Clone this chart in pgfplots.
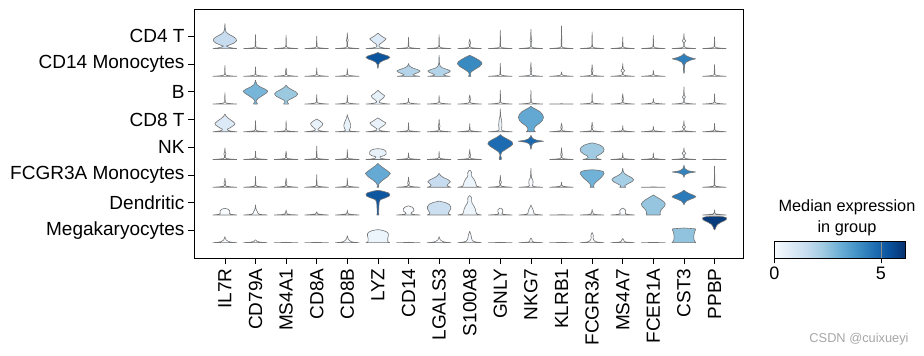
\documentclass[border=0pt]{standalone}
\usepackage{fontspec}
\setmainfont{Liberation Sans}
\usepackage{pgfplots}
\pgfplotsset{compat=1.18}
\pgfplotsset{colormap={blues}{rgb255=(247,251,255) rgb255=(222,235,247) rgb255=(198,219,239) rgb255=(158,202,225) rgb255=(107,174,214) rgb255=(66,146,198) rgb255=(33,113,181) rgb255=(8,81,156) rgb255=(8,48,107)}}
\pgfplotsset{vln/.style={draw=black!55, line width=0.6pt, mark=none, line join=round}}

% #1 gene column, #2 row (0 = top), #3 median expression, #4 profile: height/half-width pairs
\newcommand\violin[4]{%
  \pgfmathsetmacro\vx{#1}%
  \pgfmathsetmacro\vy{7-#2}%
  \gdef\vR{}\gdef\vL{}\gdef\vF{}%
  \foreach \a/\b in {#4}{%
    \pgfmathsetmacro\px{\vx+(\b)}%
    \pgfmathsetmacro\qx{\vx-(\b)}%
    \pgfmathsetmacro\py{\vy+(\a)}%
    \ifx\vF\empty\xdef\vF{(\px,\py)}\fi
    \xdef\vR{\vR (\px,\py)}%
    \xdef\vL{(\qx,\py) \vL}%
  }%
  \pgfplotscolormapaccess[0:6.16]{#3}{blues}%
  \xdef\vrgb{\pgfmathresult}%
  \xglobal\definecolor{vc#1x#2}{rgb}{\vrgb}%
  \edef\vcmd{\noexpand\addplot[vln, fill=vc#1x#2] coordinates {\vR \vL \vF};}%
  \vcmd
}
\newcommand\stick[3]{\violin{#1}{#2}{0}{0/0.39, 0.015/0.2, 0.035/0.05, 0.07/0.012, #3/0}}
\newcommand\lens[5]{\violin{#1}{#2}{0}{0/0.39, 0.015/0.2, 0.035/0.05, 0.07/0.012, #4-0.06/0.012, #4/#5, #4+0.07/0.012, #3/0}}
\newcommand\peak[3]{\violin{#1}{#2}{0}{0/0.39, 0.015/0.22, 0.04/0.12, #3*0.45/0.04, #3*0.75/0.015, #3/0}}
\newcommand\flatv[2]{\violin{#1}{#2}{0}{0/0.39, 0.008/0.05, 0.016/0}}

\begin{document}
\begin{tikzpicture}
\path[use as bounding box] (-194pt,-98pt) rectangle (730pt,258pt);
\begin{axis}[
  at={(0pt,0pt)}, anchor=south west,
  width=549pt, height=249pt, scale only axis,
  xmin=-1.01, xmax=16.93, ymin=-0.552, ymax=8.428,
  xtick={0,...,16},
  xticklabels={IL7R,CD79A,MS4A1,CD8A,CD8B,LYZ,CD14,LGALS3,S100A8,GNLY,NKG7,KLRB1,FCGR3A,MS4A7,FCER1A,CST3,PPBP},
  ytick={7.44,6.44,5.44,4.44,3.44,2.44,1.44,0.44},
  yticklabels={CD4 T,CD14 Monocytes,B,CD8 T,NK,FCGR3A Monocytes,Dendritic,Megakaryocytes},
  xtick pos=bottom, ytick pos=left,
  tick align=outside, major tick length=6pt,
  tick style={black, line width=0.8pt},
  axis line style={line width=0.9pt},
  xticklabel shift=1pt,
  xticklabel style={rotate=90, anchor=east, font=\fontsize{19}{22}\selectfont},
  yticklabel style={font=\fontsize{19}{22}\selectfont},
  clip=false,
]
% Row 0: CD4 T
\violin{0}{0}{1.5}{0/0.39, 0.02/0.25, 0.05/0.12, 0.09/0.05, 0.13/0.15, 0.2/0.3, 0.28/0.38, 0.36/0.36, 0.44/0.26, 0.52/0.12, 0.6/0.04, 0.68/0.015, 0.9/0}
\stick{1}{0}{0.5}
\stick{2}{0}{0.48}
\stick{3}{0}{0.45}
\lens{4}{0}{0.57}{0.3}{0.03}
\violin{5}{0}{0.8}{0/0.39, 0.02/0.2, 0.05/0.06, 0.1/0.03, 0.16/0.06, 0.24/0.16, 0.35/0.27, 0.45/0.12, 0.54/0.02, 0.56/0}
\stick{6}{0}{0.4}
\stick{7}{0}{0.5}
\lens{8}{0}{0.35}{0.2}{0.03}
\stick{9}{0}{0.66}
\lens{10}{0}{0.7}{0.3}{0.03}
\stick{11}{0}{0.82}
\stick{12}{0}{0.6}
\stick{13}{0}{0.42}
\stick{14}{0}{0.48}
\lens{15}{0}{0.54}{0.28}{0.06}
\stick{16}{0}{0.42}
% Row 1: CD14 Monocytes
\stick{0}{1}{0.4}
\stick{1}{1}{0.34}
\lens{2}{1}{0.3}{0.16}{0.025}
\stick{3}{1}{0.3}
\stick{4}{1}{0.28}
\violin{5}{1}{5.3}{0.28/0, 0.33/0.01, 0.42/0.02, 0.5/0.06, 0.57/0.18, 0.63/0.33, 0.68/0.39, 0.73/0.34, 0.78/0.2, 0.82/0.08, 0.86/0}
\violin{6}{1}{1.85}{0/0.37, 0.02/0.22, 0.05/0.14, 0.09/0.2, 0.14/0.32, 0.19/0.38, 0.24/0.3, 0.3/0.14, 0.36/0.04, 0.42/0.01, 0.46/0}
\violin{7}{1}{1.9}{0/0.37, 0.02/0.22, 0.05/0.14, 0.09/0.2, 0.14/0.32, 0.19/0.37, 0.24/0.28, 0.3/0.12, 0.36/0.04, 0.45/0.012, 0.76/0}
\violin{8}{1}{4.05}{0/0.04, 0.04/0.02, 0.1/0.02, 0.16/0.05, 0.25/0.17, 0.35/0.32, 0.45/0.4, 0.52/0.38, 0.6/0.28, 0.68/0.15, 0.76/0}
\stick{9}{1}{0.47}
\lens{10}{1}{0.5}{0.22}{0.03}
\stick{11}{1}{0.16}
\lens{12}{1}{0.42}{0.2}{0.03}
\lens{13}{1}{0.46}{0.2}{0.065}
\stick{14}{1}{0.22}
\violin{15}{1}{4.3}{0.1/0, 0.15/0.01, 0.4/0.02, 0.5/0.06, 0.58/0.2, 0.63/0.38, 0.68/0.2, 0.75/0.06, 0.82/0}
\stick{16}{1}{0.42}
% Row 2: B
\stick{0}{2}{0.41}
\violin{1}{2}{2.9}{0/0.06, 0.03/0.06, 0.07/0.02, 0.13/0.03, 0.2/0.08, 0.3/0.22, 0.4/0.36, 0.46/0.4, 0.53/0.33, 0.62/0.15, 0.7/0.05, 0.78/0.02, 0.86/0}
\violin{2}{2}{2.35}{0/0.08, 0.03/0.07, 0.07/0.03, 0.13/0.06, 0.2/0.18, 0.28/0.32, 0.36/0.38, 0.44/0.32, 0.52/0.18, 0.6/0.06, 0.68/0}
\stick{3}{2}{0.34}
\stick{4}{2}{0.31}
\violin{5}{2}{0.5}{0/0.39, 0.02/0.2, 0.05/0.06, 0.09/0.04, 0.14/0.08, 0.22/0.18, 0.3/0.22, 0.38/0.12, 0.46/0.03, 0.5/0}
\stick{6}{2}{0.2}
\stick{7}{2}{0.31}
\lens{8}{2}{0.33}{0.18}{0.025}
\stick{9}{2}{0.5}
\stick{10}{2}{0.5}
\flatv{11}{2}
\stick{12}{2}{0.41}
\lens{13}{2}{0.37}{0.18}{0.025}
\stick{14}{2}{0.2}
\lens{15}{2}{0.62}{0.25}{0.05}
\stick{16}{2}{0.37}
% Row 3: CD8 T
\violin{0}{3}{0.85}{0/0.39, 0.02/0.22, 0.05/0.1, 0.09/0.08, 0.15/0.18, 0.24/0.3, 0.3/0.33, 0.38/0.25, 0.48/0.12, 0.56/0.04, 0.64/0}
\stick{1}{3}{0.4}
\stick{2}{3}{0.4}
\violin{3}{3}{0.4}{0/0.39, 0.02/0.2, 0.05/0.06, 0.09/0.04, 0.15/0.1, 0.23/0.18, 0.3/0.2, 0.38/0.12, 0.44/0.03, 0.46/0}
\violin{4}{3}{0.5}{0/0.39, 0.02/0.12, 0.05/0.06, 0.1/0.08, 0.18/0.11, 0.26/0.11, 0.36/0.08, 0.46/0.04, 0.56/0.01, 0.62/0}
\violin{5}{3}{0.4}{0/0.39, 0.02/0.2, 0.05/0.05, 0.1/0.03, 0.16/0.1, 0.25/0.22, 0.32/0.26, 0.4/0.14, 0.48/0.03, 0.5/0}
\stick{6}{3}{0.33}
\lens{7}{3}{0.46}{0.2}{0.03}
\stick{8}{3}{0.29}
\violin{9}{3}{0.3}{0/0.39, 0.02/0.15, 0.05/0.05, 0.1/0.04, 0.2/0.05, 0.3/0.05, 0.42/0.04, 0.52/0.02, 0.6/0.008, 0.83/0}
\violin{10}{3}{3.25}{0/0.15, 0.03/0.12, 0.07/0.1, 0.14/0.11, 0.22/0.17, 0.32/0.3, 0.42/0.38, 0.52/0.41, 0.62/0.38, 0.72/0.3, 0.8/0.18, 0.87/0.06, 0.92/0}
\lens{11}{3}{0.3}{0.16}{0.025}
\lens{12}{3}{0.35}{0.16}{0.03}
\stick{13}{3}{0.22}
\stick{14}{3}{0.2}
\lens{15}{3}{0.4}{0.17}{0.05}
\stick{16}{3}{0.3}
% Row 4: NK
\lens{0}{4}{0.42}{0.2}{0.035}
\stick{1}{4}{0.3}
\lens{2}{4}{0.3}{0.14}{0.02}
\stick{3}{4}{0.48}
\stick{4}{4}{0.36}
\violin{5}{4}{0.5}{0/0.39, 0.02/0.2, 0.05/0.08, 0.1/0.07, 0.14/0.2, 0.19/0.27, 0.27/0.27, 0.34/0.22, 0.38/0.1, 0.39/0}
\stick{6}{4}{0.24}
\stick{7}{4}{0.3}
\lens{8}{4}{0.36}{0.15}{0.03}
\violin{9}{4}{4.75}{0/0.03, 0.05/0.035, 0.1/0.02, 0.15/0.012, 0.2/0.02, 0.28/0.06, 0.38/0.2, 0.48/0.34, 0.56/0.41, 0.64/0.38, 0.72/0.26, 0.8/0.12, 0.86/0.04, 0.9/0}
\violin{10}{4}{4.8}{0.36/0, 0.42/0.012, 0.5/0.025, 0.57/0.06, 0.62/0.16, 0.66/0.41, 0.7/0.18, 0.75/0.07, 0.81/0.025, 0.87/0}
\lens{11}{4}{0.42}{0.18}{0.03}
\violin{12}{4}{2.3}{0/0.3, 0.03/0.18, 0.07/0.13, 0.12/0.15, 0.2/0.28, 0.28/0.37, 0.36/0.39, 0.44/0.36, 0.52/0.26, 0.57/0.12, 0.6/0}
\stick{13}{4}{0.24}
\stick{14}{4}{0.24}
\lens{15}{4}{0.42}{0.22}{0.06}
\flatv{16}{4}
% Row 5: FCGR3A Monocytes
\lens{0}{5}{0.33}{0.15}{0.03}
\stick{1}{5}{0.39}
\lens{2}{5}{0.33}{0.15}{0.025}
\stick{3}{5}{0.45}
\stick{4}{5}{0.33}
\violin{5}{5}{3.2}{0/0.03, 0.04/0.02, 0.08/0.02, 0.15/0.05, 0.25/0.15, 0.38/0.32, 0.5/0.41, 0.6/0.3, 0.72/0.15, 0.8/0.05, 0.86/0}
\lens{6}{5}{0.36}{0.15}{0.03}
\violin{7}{5}{1.5}{0/0.39, 0.03/0.3, 0.07/0.26, 0.12/0.3, 0.2/0.37, 0.27/0.3, 0.35/0.14, 0.42/0.05, 0.5/0}
\violin{8}{5}{0.3}{0/0.39, 0.02/0.28, 0.05/0.22, 0.12/0.2, 0.2/0.18, 0.3/0.13, 0.38/0.07, 0.44/0.06, 0.52/0.065, 0.58/0.04, 0.62/0}
\lens{9}{5}{0.43}{0.18}{0.035}
\violin{10}{5}{0}{0/0.39, 0.02/0.12, 0.05/0.05, 0.1/0.06, 0.18/0.07, 0.26/0.06, 0.34/0.02, 0.45/0.01, 0.69/0}
\stick{11}{5}{0.18}
\violin{12}{5}{3.0}{0/0.07, 0.03/0.05, 0.07/0.05, 0.13/0.08, 0.22/0.16, 0.32/0.27, 0.42/0.35, 0.5/0.39, 0.57/0.36, 0.61/0.22, 0.63/0}
\violin{13}{5}{2.15}{0/0.1, 0.03/0.07, 0.07/0.08, 0.13/0.18, 0.2/0.3, 0.27/0.36, 0.34/0.3, 0.42/0.16, 0.5/0.05, 0.58/0.015, 0.69/0}
\flatv{14}{5}
\violin{15}{5}{4.2}{0.35/0, 0.4/0.01, 0.46/0.04, 0.51/0.15, 0.55/0.38, 0.59/0.15, 0.66/0.04, 0.74/0.01, 0.8/0}
\stick{16}{5}{0.76}
% Row 6: Dendritic
\violin{0}{6}{0}{0/0.39, 0.02/0.22, 0.05/0.15, 0.1/0.16, 0.16/0.15, 0.21/0.1, 0.24/0}
\violin{1}{6}{0}{0/0.39, 0.02/0.15, 0.06/0.08, 0.12/0.06, 0.18/0.03, 0.25/0.01, 0.36/0}
\violin{2}{6}{0}{0/0.39, 0.015/0.15, 0.04/0.03, 0.08/0.025, 0.12/0.01, 0.18/0}
\stick{3}{6}{0.12}
\stick{4}{6}{0.18}
\violin{5}{6}{5.25}{0/0.03, 0.1/0.025, 0.3/0.03, 0.45/0.04, 0.55/0.08, 0.62/0.25, 0.68/0.37, 0.74/0.39, 0.8/0.34, 0.86/0.15, 0.89/0}
\violin{6}{6}{0}{0/0.39, 0.02/0.15, 0.05/0.08, 0.09/0.1, 0.14/0.17, 0.22/0.17, 0.28/0.12, 0.33/0}
\violin{7}{6}{1.35}{0/0.39, 0.03/0.32, 0.07/0.3, 0.14/0.34, 0.22/0.38, 0.3/0.38, 0.38/0.33, 0.45/0.2, 0.5/0}
\violin{8}{6}{0.3}{0/0.39, 0.02/0.28, 0.05/0.22, 0.12/0.2, 0.22/0.18, 0.32/0.14, 0.42/0.08, 0.5/0.06, 0.6/0.065, 0.66/0.04, 0.7/0}
\violin{9}{6}{0}{0/0.39, 0.02/0.12, 0.05/0.05, 0.08/0.06, 0.12/0.08, 0.18/0.08, 0.22/0.05, 0.25/0}
\violin{10}{6}{0}{0/0.39, 0.02/0.18, 0.05/0.1, 0.1/0.09, 0.16/0.08, 0.24/0.05, 0.3/0.02, 0.36/0}
\flatv{11}{6}
\violin{12}{6}{0}{0/0.39, 0.015/0.15, 0.04/0.03, 0.08/0.03, 0.12/0.012, 0.2/0}
\violin{13}{6}{0}{0/0.39, 0.02/0.16, 0.05/0.08, 0.1/0.09, 0.15/0.1, 0.2/0.07, 0.25/0}
\violin{14}{6}{2.45}{0/0.23, 0.08/0.22, 0.16/0.24, 0.24/0.3, 0.32/0.37, 0.4/0.39, 0.48/0.34, 0.56/0.24, 0.64/0.12, 0.72/0}
\violin{15}{6}{4.4}{0.36/0, 0.42/0.02, 0.5/0.08, 0.57/0.22, 0.62/0.34, 0.66/0.39, 0.71/0.32, 0.77/0.18, 0.84/0.06, 0.9/0}
\stick{16}{6}{0.18}
% Row 7: Megakaryocytes
\peak{0}{7}{0.22}
\violin{1}{7}{0}{0/0.39, 0.02/0.15, 0.05/0.04, 0.08/0.025, 0.1/0}
\flatv{2}{7}
\flatv{3}{7}
\peak{4}{7}{0.25}
\violin{5}{7}{0.3}{0/0.39, 0.02/0.34, 0.06/0.32, 0.15/0.32, 0.25/0.34, 0.32/0.34, 0.38/0.3, 0.43/0.2, 0.46/0.08, 0.47/0}
\flatv{6}{7}
\peak{7}{7}{0.22}
\violin{8}{7}{0.2}{0/0.39, 0.02/0.22, 0.05/0.12, 0.1/0.08, 0.16/0.06, 0.24/0.05, 0.32/0.03, 0.41/0}
\flatv{9}{7}
\violin{10}{7}{0}{0/0.39, 0.02/0.1, 0.05/0.04, 0.1/0.035, 0.14/0.02, 0.17/0}
\flatv{11}{7}
\violin{12}{7}{0}{0/0.39, 0.02/0.18, 0.05/0.1, 0.1/0.05, 0.18/0.03, 0.26/0.04, 0.32/0.02, 0.37/0}
\violin{13}{7}{0}{0/0.39, 0.02/0.12, 0.05/0.05, 0.1/0.03, 0.15/0}
\flatv{14}{7}
\violin{15}{7}{2.5}{0/0.39, 0.04/0.36, 0.1/0.33, 0.2/0.32, 0.3/0.33, 0.4/0.35, 0.47/0.38, 0.5/0.37, 0.53/0}
\violin{16}{7}{5.9}{0.46/0, 0.5/0.025, 0.58/0.05, 0.66/0.1, 0.74/0.22, 0.8/0.34, 0.85/0.39, 0.91/0.38, 0.94/0.25, 0.95/0}
\end{axis}

% colorbar
\begin{axis}[
  at={(580.3pt,-0.3pt)}, anchor=south west,
  width=131.4pt, height=16.6pt, scale only axis,
  xmin=0, xmax=6.16, ymin=0, ymax=1,
  view={0}{90},
  colormap name=blues,
  ytick=\empty, ztick=\empty, xtick={0,5},
  xtick pos=bottom, tick align=outside, major tick length=5pt,
  tick style={black, line width=0.8pt},
  axis line style={line width=0.9pt},
  xticklabel style={font=\fontsize{18}{20}\selectfont},
  /pgf/number format/assume math mode=true,
  axis on top,
]
\addplot3[surf, shader=interp, point meta=x, mesh/cols=2] coordinates {(0,0,0) (6.16,0,0) (0,1,0) (6.16,1,0)};
\addplot[black!45, line width=0.9pt] coordinates {(5,0) (5,1)};
\end{axis}
\node[font=\fontsize{16.3}{18}\selectfont] at (653pt,51pt) {Median expression};
\node[font=\fontsize{16.3}{18}\selectfont] at (653pt,30pt) {in group};
\node[text=black!35, font=\fontsize{12.8}{14}\selectfont] at (665pt,-81pt) {CSDN @cuixueyi};
\end{tikzpicture}
\end{document}
